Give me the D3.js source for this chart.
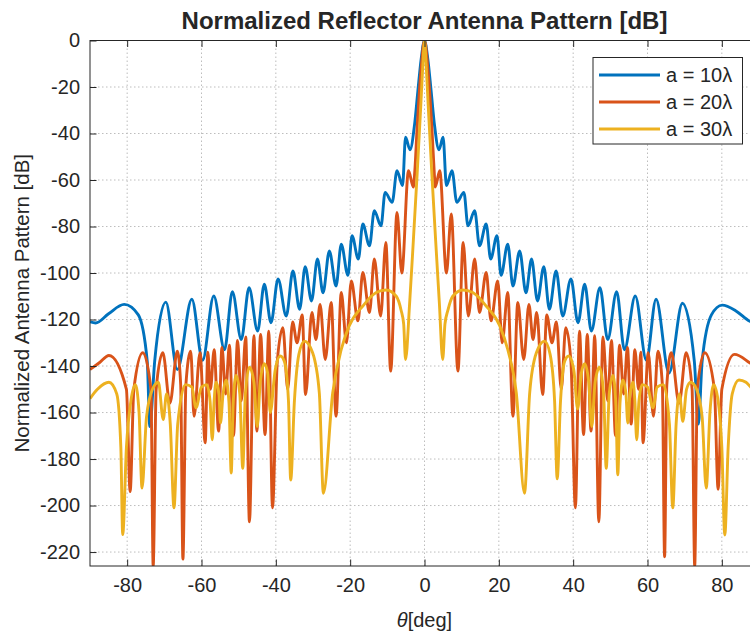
<!DOCTYPE html>
<html>
<head>
<meta charset="utf-8">
<script src="https://cdn.jsdelivr.net/npm/d3@7"></script>
<style>
body { margin: 0; background: #fff; }
text { font-family: "Liberation Sans", Arial, Helvetica, sans-serif; fill: #262626; }
</style>
</head>
<body>
<div id="chart"></div>
<script>
// ---- data (theta in deg, pattern in dB) ----
var xTicks = [-80, -60, -40, -20, 0, 20, 40, 60, 80];
var yTicks = [0, -20, -40, -60, -80, -100, -120, -140, -160, -180, -200, -220];
var seriesNames = ["a = 10\u03BB", "a = 20\u03BB", "a = 30\u03BB"];
var seriesColors = ["#0072BD", "#D95319", "#EDB120"];

// a = 10 lambda
var a10Left = [[-90,-121],[-88.5,-121.5],[-85,-117.5],[-80.8,-113.5],[-77,-118],[-74.6,-138],[-73.9,-166],[-72.6,-138],
  [-69.6,-112.5],[-66.5,-141.5],[-62.6,-111.3],[-59.7,-137.5],[-56.7,-109.9],[-53.8,-133],[-51.7,-108],[-49.3,-128.6],
  [-47.2,-106.3],[-44.9,-125],[-43.1,-104.8],[-41.3,-121.4],[-39.4,-102.5],[-37.2,-118.5],[-35.4,-99.1],[-33.6,-115.6],
  [-32.1,-97.3],[-30.4,-112],[-28.8,-94],[-27.3,-108.5],[-25.6,-90.5],[-23.8,-105.6],[-22.4,-87.6],[-20.6,-101],
  [-19.5,-84],[-17.8,-94],[-16.6,-78.9],[-14.8,-88.3],[-13.5,-73.2],[-11.7,-79.7],[-10.6,-65.3],[-8.7,-69.6],
  [-7.4,-56],[-5.9,-62.4],[-5.1,-41.6],[-3.9,-47],[-2.7,-36.5],[-1.8,-22],[-0.9,-8]];
var a10Right = [[0,0],[0.9,-8],[1.8,-22],[2.7,-36.5],[3.9,-47],[5.0,-41.6],[5.9,-62.4],[7.4,-56],[8.7,-69.6],
  [10.6,-65.3],[11.7,-79.7],[13.5,-73.2],[14.8,-88.3],[16.6,-78.9],[17.8,-94],[19.5,-84],[20.6,-101],[22.4,-87.6],
  [23.8,-105.6],[25.6,-90.5],[27.3,-108.5],[28.8,-94],[30.4,-112],[32.1,-97.3],[33.6,-115.6],[35.4,-99.1],
  [37.2,-118.5],[39.4,-102.5],[41.3,-121.4],[43.1,-104.8],[44.9,-125],[47.2,-106.3],[49.3,-128.6],[51.7,-108],
  [53.8,-133],[56.7,-109.9],[59.7,-137.5],[62.3,-111.3],[65.8,-143],[69.4,-113],[72.6,-138],[73.7,-165],
  [74.7,-138],[77.2,-118],[80.1,-113.8],[84,-116.5],[87.5,-120.7],[89.2,-121.5],[90,-121.5]];

// a = 20 lambda
var a20Left = [[-90,-141.5],[-87.5,-138.6],[-84.9,-135.5],[-80.2,-150],[-79.2,-194],[-78.2,-150],[-75.8,-134.3],
  [-73.6,-150],[-73.0,-226],[-72.2,-150],[-70.4,-134.3],[-68.5,-156],[-66.5,-133.6],[-65.6,-148],[-65.0,-223],
  [-64.2,-148],[-62.9,-133.6],[-62.0,-161.6],[-60.4,-134.3],[-59.0,-173],[-58.3,-134],[-57.6,-150],[-56.6,-133],
  [-55.4,-168],[-54.5,-132],[-53.5,-152],[-52.5,-131],[-51.4,-170],[-50.3,-129],[-49.3,-155],[-48.1,-127.5],
  [-47.1,-207],[-45.9,-127],[-45.1,-168],[-44.1,-126.4],[-42.9,-169.5],[-41.9,-125],[-40.9,-201],[-39.6,-138],
  [-38.1,-123.5],[-36.8,-150],[-35.5,-121],[-34.3,-130],[-32.9,-118],[-32.0,-152.3],[-30.3,-117],[-29.2,-128.6],
  [-28.1,-113.5],[-26.7,-137.2],[-25.1,-112.7],[-23.8,-161.6],[-22.4,-108.4],[-21.0,-130],[-19.7,-103.4],
  [-17.9,-120.6],[-16.6,-99.8],[-14.8,-117],[-13.5,-94],[-11.8,-118.5],[-10.4,-86.9],[-9.1,-142.2],[-7.4,-74],
  [-6.1,-100],[-4.3,-56],[-3.0,-63],[-2.6,-56],[-2.0,-38],[-1.0,-14]];
var a20Right = [[0,0],[1.0,-14],[2.0,-38],[2.6,-56],[2.9,-63],[4.1,-56],[5.9,-100],[7.2,-74.6],[9.0,-142.2],
  [10.4,-86.9],[11.8,-118.5],[13.5,-94],[14.8,-117],[16.6,-99.8],[17.9,-120.6],[19.7,-103.4],[20.9,-130],
  [22.4,-108.4],[23.8,-161.6],[25.1,-112.7],[26.7,-137.2],[28.1,-113.5],[29.2,-128.6],[30.2,-117],[31.8,-152.3],
  [32.9,-118],[34.3,-130],[35.5,-121],[36.8,-150],[38.0,-123.5],[39.4,-138],[40.6,-201],[41.7,-125],[42.8,-169.5],
  [43.8,-126.4],[44.8,-168],[45.8,-127],[46.9,-207],[48.0,-127.5],[49.3,-155],[50.3,-129],[51.4,-170],[52.5,-131],
  [53.6,-152],[54.6,-132],[55.6,-165],[56.6,-133],[57.6,-150],[58.2,-134],[58.8,-173],[60.2,-134.3],[61.6,-161.6],
  [62.8,-133.6],[64.0,-148],[64.6,-222],[65.2,-148],[66.4,-134.3],[68.5,-156],[70.4,-134.3],[72.0,-150],
  [72.7,-226],[73.4,-150],[75.4,-134.3],[78.0,-150],[79.0,-193],[80.0,-150],[83.4,-135],[87.5,-138.6],[90,-141.5]];

// a = 30 lambda
var a30Left = [[-90,-154],[-88,-150],[-84.9,-147],[-82.8,-152],[-81.7,-175],[-81.2,-212.5],[-80.2,-175],
  [-79.0,-155],[-77.8,-148],[-76.8,-160],[-76.0,-192.5],[-74.8,-162],[-73.2,-150],[-71.6,-147],[-70.3,-163],
  [-69.4,-152],[-68.4,-165],[-67.4,-201],[-66.4,-165],[-64.3,-148],[-62.6,-149],[-61.5,-158],[-60,-149],
  [-58.6,-148],[-57.7,-155],[-57.1,-171.7],[-56.6,-155],[-56.1,-147],[-55.3,-152],[-54.9,-164.5],[-54.2,-152],
  [-53.4,-146],[-52.6,-156],[-52.0,-186],[-51.5,-157],[-50.7,-144],[-49.7,-152],[-48.9,-184],[-48.2,-152],
  [-47.1,-140.5],[-45.9,-147],[-45.0,-166],[-44.2,-147],[-43.1,-139],[-42.2,-143],[-41.5,-160],[-40.2,-142],
  [-38.8,-135.7],[-37.7,-138],[-36.6,-155],[-36.0,-189],[-35.0,-155],[-33.8,-135],[-32.3,-129.3],[-30.1,-134.3],
  [-28.3,-151.6],[-27.2,-194.7],[-24.7,-151.6],[-22.4,-132.9],[-20.2,-122.5],[-16.6,-114.2],[-13.0,-108.4],
  [-10.3,-107.3],[-7.6,-110],[-6.3,-116],[-5.6,-122],[-5.1,-137.2],[-4.0,-113],[-3.0,-86],[-2.0,-58],
  [-1.0,-28],[-0.5,-12]];
var a30Right = [[0,0],[0.5,-12],[1.0,-28],[2.0,-58],[3.0,-86],[4.0,-113],[4.9,-137.2],[5.5,-122],[6.3,-116],
  [7.6,-110],[10.3,-107.3],[13.0,-108.4],[16.6,-114.2],[20.2,-122.5],[22.4,-132.9],[24.7,-151.6],[26.9,-194.7],
  [28.3,-151.6],[30.1,-134.3],[32.3,-129.3],[33.8,-135],[35.0,-155],[35.7,-188.5],[36.6,-155],[37.7,-138],
  [38.8,-135.7],[40.2,-142],[41.2,-158.5],[42.2,-143],[43.1,-139],[44.2,-147],[45.0,-166],[45.9,-147],
  [47.1,-140.5],[48.2,-152],[48.9,-184],[49.7,-152],[50.7,-144],[51.5,-157],[52.0,-186.8],[52.6,-156],
  [53.4,-146],[54.2,-152],[54.7,-164.5],[55.3,-152],[56.1,-147],[56.6,-155],[57.1,-171.7],[57.7,-155],
  [58.6,-148],[60.0,-149],[61.5,-158],[62.6,-149],[64.3,-148],[65.9,-165],[66.8,-201],[67.7,-165],[68.6,-152],
  [69.5,-163.8],[70.5,-150],[71.6,-147],[73.2,-150],[74.7,-162],[75.8,-192.5],[76.8,-160],[77.8,-148],
  [79.0,-155],[80.0,-175],[80.8,-212.7],[81.7,-175],[82.8,-152],[84.6,-146],[86.5,-147],[88.0,-149.5],[90,-153]];

var series = [a10Left.concat(a10Right), a20Left.concat(a20Right), a30Left.concat(a30Right)];

// ---- layout ----
var W = 750, H = 632;
var margin = { top: 40.5, right: -9, bottom: 66, left: 90 };
var width = W - margin.left - margin.right,
    height = H - margin.top - margin.bottom;

var svg = d3.select("#chart")
  .append("svg")
  .attr("width", W)
  .attr("height", H)
  .style("background", "#fff");

var g = svg.append("g")
  .attr("transform", "translate(" + margin.left + "," + margin.top + ")");

var x = d3.scaleLinear().domain([-90, 90]).range([0, width]);
var y = d3.scaleLinear().domain([-226, 0]).range([height, 0]);

// grid
g.append("g").selectAll("line")
  .data(xTicks).enter().append("line")
  .attr("x1", d => x(d)).attr("x2", d => x(d))
  .attr("y1", 0).attr("y2", height)
  .attr("stroke", "#bdbdbd").attr("stroke-width", 1)
  .attr("stroke-dasharray", "1.5,2.5");
g.append("g").selectAll("line")
  .data(yTicks).enter().append("line")
  .attr("x1", 0).attr("x2", width)
  .attr("y1", d => y(d)).attr("y2", d => y(d))
  .attr("stroke", "#bdbdbd").attr("stroke-width", 1)
  .attr("stroke-dasharray", "1.5,2.5");

// curves
g.append("clipPath").attr("id", "plotClip")
  .append("rect").attr("width", width).attr("height", height);

var line = d3.line()
  .x(d => x(d[0]))
  .y(d => y(d[1]))
  .curve(d3.curveMonotoneX);

g.append("g").attr("clip-path", "url(#plotClip)")
  .selectAll("path")
  .data(series).enter().append("path")
  .attr("fill", "none")
  .attr("stroke", (d, i) => seriesColors[i])
  .attr("stroke-width", 2.9)
  .attr("stroke-linejoin", "round")
  .attr("d", line);

// axes (ticks point inward like MATLAB), plain hyphen for negatives
var tickLen = 6.5;
var fmt = function (d) { return String(d); };
var xAxis = g.append("g")
  .attr("transform", "translate(0," + height + ")")
  .call(d3.axisBottom(x).tickValues(xTicks).tickFormat(fmt).tickSizeInner(-tickLen).tickSizeOuter(0).tickPadding(12));
var yAxis = g.append("g")
  .call(d3.axisLeft(y).tickValues(yTicks).tickFormat(fmt).tickSizeInner(-tickLen).tickSizeOuter(0).tickPadding(10));
var xTop = g.append("g")
  .call(d3.axisTop(x).tickValues(xTicks).tickSizeInner(-tickLen).tickSizeOuter(0).tickFormat(""));
var yRight = g.append("g")
  .attr("transform", "translate(" + width + ",0)")
  .call(d3.axisRight(y).tickValues(yTicks).tickSizeInner(-tickLen).tickSizeOuter(0).tickFormat(""));

[xAxis, yAxis, xTop, yRight].forEach(function (a) {
  a.select(".domain").remove();
  a.selectAll("line").attr("stroke", "#262626");
  a.selectAll("text")
    .style("font-size", "20px")
    .attr("fill", "#262626")
    .style("font-family", "'Liberation Sans', Arial, sans-serif");
});

// frame
g.append("rect")
  .attr("width", width).attr("height", height)
  .attr("fill", "none").attr("stroke", "#262626").attr("stroke-width", 1);

// title and labels
svg.append("text")
  .attr("x", margin.left + x(0))
  .attr("y", 29)
  .attr("text-anchor", "middle")
  .style("font-size", "24px")
  .style("font-weight", "bold")
  .text("Normalized Reflector Antenna Pattern [dB]");

svg.append("text")
  .attr("transform", "translate(29," + (margin.top + height / 2) + ") rotate(-90)")
  .attr("text-anchor", "middle")
  .style("font-size", "20.5px")
  .text("Normalized Antenna Pattern [dB]");

var xl = svg.append("text")
  .attr("x", margin.left + x(0))
  .attr("y", 627)
  .attr("text-anchor", "middle")
  .style("font-size", "20px");
xl.append("tspan").style("font-style", "italic").text("\u03B8");
xl.append("tspan").text("[deg]");

// legend
var legend = svg.append("g").attr("transform", "translate(593,57.5)");
legend.append("rect")
  .attr("width", 149.5).attr("height", 86.5)
  .attr("fill", "#fff").attr("stroke", "#262626").attr("stroke-width", 1);
var items = legend.selectAll(".legend-item")
  .data(seriesNames).enter().append("g")
  .attr("class", "legend-item")
  .attr("transform", (d, i) => "translate(0," + (17.5 + i * 27) + ")");
items.append("line")
  .attr("x1", 6).attr("x2", 67)
  .attr("stroke", (d, i) => seriesColors[i])
  .attr("stroke-width", 2.9);
items.append("text")
  .attr("x", 73).attr("dy", "0.35em")
  .style("font-size", "20px")
  .text(d => d);
</script>
</body>
</html>
